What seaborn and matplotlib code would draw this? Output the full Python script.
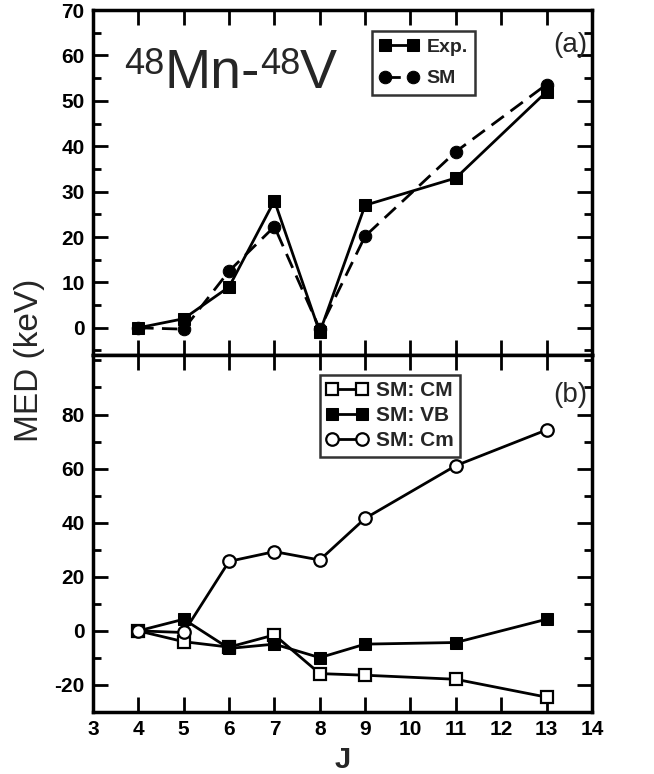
import matplotlib
matplotlib.use("Agg")
import matplotlib.pyplot as plt
import seaborn as sns
import pandas as pd
from matplotlib.ticker import MultipleLocator, FixedLocator

sns.set_theme(style="ticks")
plt.rcParams['font.family'] = ['Liberation Sans', 'DejaVu Sans']
plt.rcParams['axes.unicode_minus'] = False

J = [4, 5, 6, 7, 8, 9, 11, 13]
exp_med = [0, 2, 9, 28, -1, 27, 33, 52]
sm_med = [0, -0.3, 12.5, 22.3, -0.3, 20.2, 38.8, 53.6]
sm_cm = [0, -4, -6, -1.5, -15.8, -16.4, -17.9, -24.5]
sm_vb = [0, 4.3, -6.5, -4.9, -9.9, -4.9, -4.3, 4.3]
sm_cmm = [0, -0.6, 25.7, 29.3, 26.2, 41.6, 61.1, 74.3]
xticks = list(range(3, 15))
yticks_a = list(range(0, 71, 10))
yticks_b = list(range(-20, 81, 20))
title_parts = [("48", True), ("Mn-", False), ("48", True), ("V", False)]

W, H = 654, 774
fig = plt.figure(figsize=(W / 100, H / 100), dpi=100)
L, R = 0.1422, 0.905
ax1 = fig.add_axes([L, 0.5413, R - L, 0.987 - 0.5413])
ax2 = fig.add_axes([L, 0.0801, R - L, 0.5413 - 0.0801])

d1 = pd.DataFrame({"J": J, "Exp": exp_med, "SM": sm_med})
sns.lineplot(data=d1, x="J", y="Exp", ax=ax1, color="black", lw=2, marker="s",
             markersize=8, markeredgecolor="black", label="Exp.")
sns.lineplot(data=d1, x="J", y="SM", ax=ax1, color="black", lw=2, marker="o",
             markersize=9, markeredgecolor="black", label="SM")
ax1.lines[1].set_linestyle((0, (5.5, 3)))

d2 = pd.DataFrame({"J": J, "CM": sm_cm, "VB": sm_vb, "Cm": sm_cmm})
sns.lineplot(data=d2, x="J", y="CM", ax=ax2, color="black", lw=2, marker="s",
             markersize=8, markerfacecolor="white", markeredgecolor="black",
             markeredgewidth=1.6, label="SM: CM")
sns.lineplot(data=d2, x="J", y="VB", ax=ax2, color="black", lw=2, marker="s",
             markersize=8, markeredgecolor="black", label="SM: VB")
sns.lineplot(data=d2, x="J", y="Cm", ax=ax2, color="black", lw=2, marker="o",
             markersize=9, markerfacecolor="white", markeredgecolor="black",
             markeredgewidth=1.6, label="SM: Cm")

for ax in (ax1, ax2):
    ax.set_xlim(3, 14)
    ax.set_xticks(xticks)
    ax.tick_params(which="both", direction="in", top=True, right=True, width=2,
                   colors="black", labelsize=15, pad=6)
    ax.tick_params(which="major", length=11)
    ax.tick_params(which="minor", length=5.5)
    for s in ax.spines.values():
        s.set_linewidth(2.5)
        s.set_color("black")
    ax.set_xlabel("")
    ax.set_ylabel("")

ax1.set_ylim(-6, 70)
ax1.set_yticks(yticks_a)
ax1.yaxis.set_minor_locator(MultipleLocator(5))
ax1.tick_params(axis="x", labelbottom=False)

ax2.set_ylim(-30, 102)
ax2.set_yticks(yticks_b)
ax2.yaxis.set_minor_locator(FixedLocator(list(range(-30, 101, 10))))

for ax in (ax1, ax2):
    for lab in ax.get_yticklabels() + ax.get_xticklabels():
        lab.set_fontweight("bold")

ax2.set_xlabel("J", fontsize=21, fontweight="bold", labelpad=5)
fig.text(0.045, 0.535, "MED (keV)", rotation=90, fontsize=24, ha="center", va="center")

# title with hand-placed superscripts
renderer = fig.canvas.get_renderer()
main_size, sup_size = 40, 26
base_px = H - 88
x_px = 124
sup_dy = (main_size - sup_size) * 1.389 * 0.716
for txt, sup in title_parts:
    size = sup_size if sup else main_size
    y_px = base_px + (sup_dy if sup else 0)
    t = fig.text(x_px / W, y_px / H, txt, fontsize=size, ha="left", va="baseline")
    bb = t.get_window_extent(renderer)
    x_px = bb.x1

ax1.text(0.99, 0.90, "(a)", transform=ax1.transAxes, fontsize=20,
         ha="right", va="center")
ax2.text(0.99, 0.888, "(b)", transform=ax2.transAxes, fontsize=20,
         ha="right", va="center")

leg1 = ax1.legend(loc="upper left", bbox_to_anchor=(0.559, 0.94), frameon=True,
                  fancybox=False, edgecolor="black", handlelength=2.0, numpoints=2,
                  prop={"weight": "bold", "size": 14}, borderpad=0.4,
                  labelspacing=0.7, handletextpad=0.4, borderaxespad=0)
leg1.get_frame().set_linewidth(1.8)
leg2 = ax2.legend(loc="upper left", bbox_to_anchor=(0.455, 0.945), frameon=True,
                  fancybox=False, edgecolor="black", handlelength=2.0, numpoints=2,
                  prop={"weight": "bold", "size": 15}, borderpad=0.3,
                  labelspacing=0.3, handletextpad=0.4, borderaxespad=0)
leg2.get_frame().set_linewidth(1.8)

fig.savefig("out.png", dpi=100)
